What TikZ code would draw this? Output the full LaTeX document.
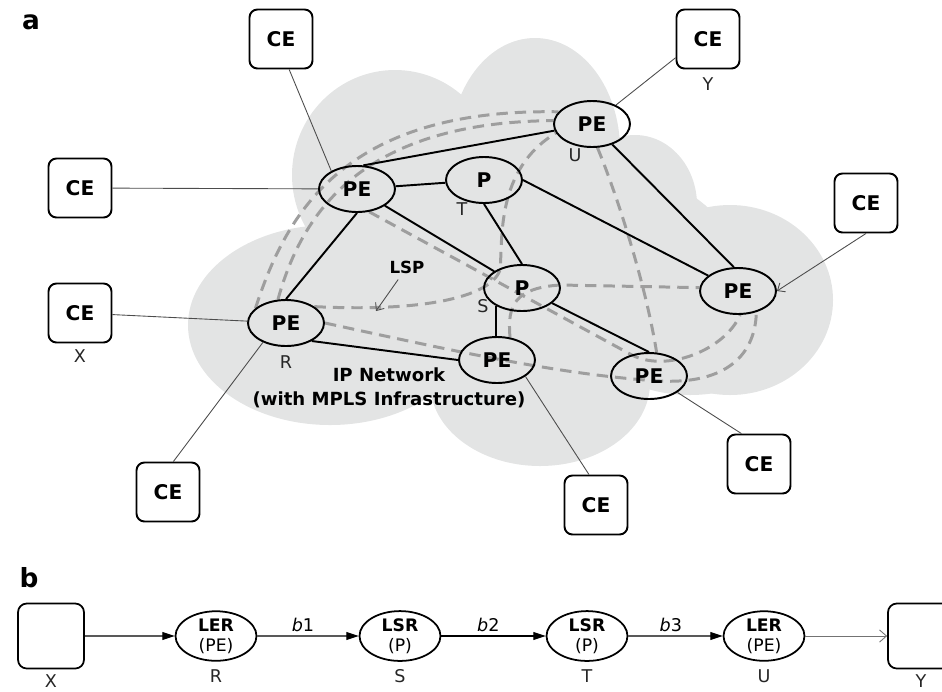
\documentclass[tikz,border=0pt]{standalone}
\usepackage{fontspec}
\setmainfont{DejaVu Sans}
\usetikzlibrary{arrows.meta,shapes.geometric,backgrounds}
\definecolor{cloudgray}{RGB}{227,228,228}
\definecolor{lspgray}{RGB}{158,158,158}

\begin{document}
\begin{tikzpicture}[x=0.02cm,y=-0.02cm,
  pe/.style={draw,ellipse,line width=1.1pt,minimum width=1.52cm,minimum height=0.92cm,inner sep=0pt,font=\bfseries\fontsize{11.5}{13}\selectfont},
  ce/.style={draw,rounded corners=4.5pt,line width=1.1pt,minimum width=1.26cm,minimum height=1.18cm,inner sep=0pt,font=\bfseries\fontsize{11.5}{13}\selectfont},
  tag/.style={font=\fontsize{10}{11}\selectfont,text=black!85},
  link/.style={line width=1.1pt},
  tie/.style={draw=black!70,line width=0.5pt},
  lsp/.style={draw=lspgray,line width=1.7pt,dash pattern=on 6.5pt off 4pt},
  barb/.style={-{Straight Barb[length=3.5pt,width=6pt]}},
  ler/.style={draw,ellipse,line width=1pt,minimum width=1.62cm,minimum height=0.98cm,inner sep=0pt,align=center,font=\fontsize{9.8}{11.5}\selectfont},
  host/.style={draw,rounded corners=5pt,line width=1pt,minimum width=1.32cm,minimum height=1.3cm},
  hop/.style={draw=black!65,line width=0.6pt,-{Triangle[length=7pt,width=4.5pt,color=black]}},
  hoplabel/.style={above,inner sep=2pt,font=\fontsize{10}{11}\selectfont}]
\useasboundingbox (0,0) rectangle (942,691);

\node[font=\bfseries\fontsize{15}{17}\selectfont] (parta) at (31,22) {a};
\node[font=\bfseries\fontsize{15}{17}\selectfont] (partb) at (29,578) {b};

\node[pe] (peA) at (357,189) {PE};
\node[pe] (pT) at (484,180) {P};
\node[pe] (peU) at (592,124) {PE};
\node[pe] (pS) at (522,288) {P};
\node[pe] (peR) at (286,323) {PE};
\node[pe] (peM) at (497,360) {PE};
\node[pe] (peE) at (738,291) {PE};
\node[pe] (peB) at (649,376) {PE};

\node[ce] (ceN) at (281,39) {CE};
\node[ce] (ceY) at (708,39) {CE};
\node[ce] (ceW) at (80,188) {CE};
\node[ce] (ceX) at (80,313) {CE};
\node[ce] (ceSW) at (168,492) {CE};
\node[ce] (ceS) at (596,505) {CE};
\node[ce] (ceSE) at (759,464) {CE};
\node[ce] (ceE) at (866,203) {CE};

\node[tag] (tagT) at (462,209) {T};
\node[tag] (tagU) at (575,155) {U};
\node[tag] (tagS) at (483,306) {S};
\node[tag] (tagR) at (286,362) {R};
\node[tag] (tagX) at (80,356) {X};
\node[tag] (tagY) at (708,84) {Y};

\node[font=\bfseries\fontsize{10.3}{13.7}\selectfont,align=center] (ipnet) at (389,388) {IP Network\\(with MPLS Infrastructure)};
\node[font=\bfseries\fontsize{9.5}{11}\selectfont] (lsp) at (407,267) {LSP};
\coordinate (lspTip) at (376,311);

\draw[link] (peA.75) -- (peU.190);
\draw[link] (peA) -- (pT);
\draw[link] (peA.south) -- (peR.north);
\draw[link] (peA) -- (pS);
\draw[link] (pT.south) -- (pS.north);
\draw[link] (pT.east) -- (peE);
\draw[link] (peU) -- (peE.100);
\draw[link] (pS.215) -- (pS.215 |- peM.north);
\draw[link] (pS) -- (peB.north);
\draw[link] (peR.325) -- (peM.west);

\draw[tie] (ceN.285) -- (peA.145);
\draw[tie] (ceW) -- (peA);
\draw[tie] (ceX) -- (peR);
\draw[tie] (ceSW.80) -- (peR.220);
\draw[tie] (ceS.103) -- (peM.330);
\draw[tie] (ceSE.120) -- (peB.330);
\draw[tie,barb] (ceE.south) -- (peE.east);
\draw[tie] (ceY.210) -- (peU);
\draw[tie,barb] (lsp) -- (lspTip);

\begin{scope}[on background layer]
\fill[cloudgray] (330,325) ellipse [x radius=142, y radius=100];
\fill[cloudgray] (395,175) ellipse [x radius=103, y radius=105];
\fill[cloudgray] (535,150) ellipse [x radius=85, y radius=112];
\fill[cloudgray] (635,205) ellipse [x radius=62, y radius=70];
\fill[cloudgray] (730,300) ellipse [x radius=103, y radius=95];
\fill[cloudgray] (690,330) ellipse [x radius=100, y radius=65];
\fill[cloudgray] (540,383) ellipse [x radius=110, y radius=83];
\fill[cloudgray] (520,270) ellipse [x radius=220, y radius=120];

\draw[lsp] (peR.154) .. controls (285,218) and (340,108) .. (peU.160);
\draw[lsp] (peR.109) .. controls (300,220) and (355,122) .. (peU.175);
\draw[lsp] (peR.30) .. controls (420,312) and (490,298) .. (500,270) .. controls (503,240) and (495,170) .. (peU.194);
\draw[lsp] (peA.298) -- (630,354) .. controls (665,374) and (725,350) .. (peE.275);
\draw[lsp] (peR.east) .. controls (450,350) and (560,375) .. (660,381) .. controls (720,384) and (755,360) .. (peE.311);
\draw[lsp] (peM.60) .. controls (507,305) and (515,288) .. (560,285) -- (peE.175);
\draw[lsp] (peU.283) .. controls (615,190) and (645,280) .. (peB.72);
\end{scope}

\node[host] (hostX) at (51,636) {};
\node[ler] (lerR) at (216,636) {\textbf{LER}\\(PE)};
\node[ler] (lsrS) at (400,636) {\textbf{LSR}\\(P)};
\node[ler] (lsrT) at (587,636) {\textbf{LSR}\\(P)};
\node[ler] (lerU) at (764,636) {\textbf{LER}\\(PE)};
\node[host] (hostY) at (921,636) {};

\node[tag] (tagXb) at (51,681) {X};
\node[tag] (tagRb) at (216,676) {R};
\node[tag] (tagSb) at (400,676) {S};
\node[tag] (tagTb) at (587,676) {T};
\node[tag] (tagUb) at (764,676) {U};
\node[tag] (tagYb) at (921,681) {Y};

\draw[hop] (hostX) -- (lerR);
\draw[hop] (lerR) -- node[hoplabel,pos=0.45] {{\itshape b}1} (lsrS);
\draw[hop,draw=black] (lsrS) -- node[hoplabel,pos=0.45] {{\itshape b}2} (lsrT);
\draw[hop] (lsrT) -- node[hoplabel,pos=0.45] {{\itshape b}3} (lerU);
\draw[tie,draw=black!55,-{Straight Barb[length=4pt,width=7pt]}] (lerU) -- (hostY);
\end{tikzpicture}
\end{document}
